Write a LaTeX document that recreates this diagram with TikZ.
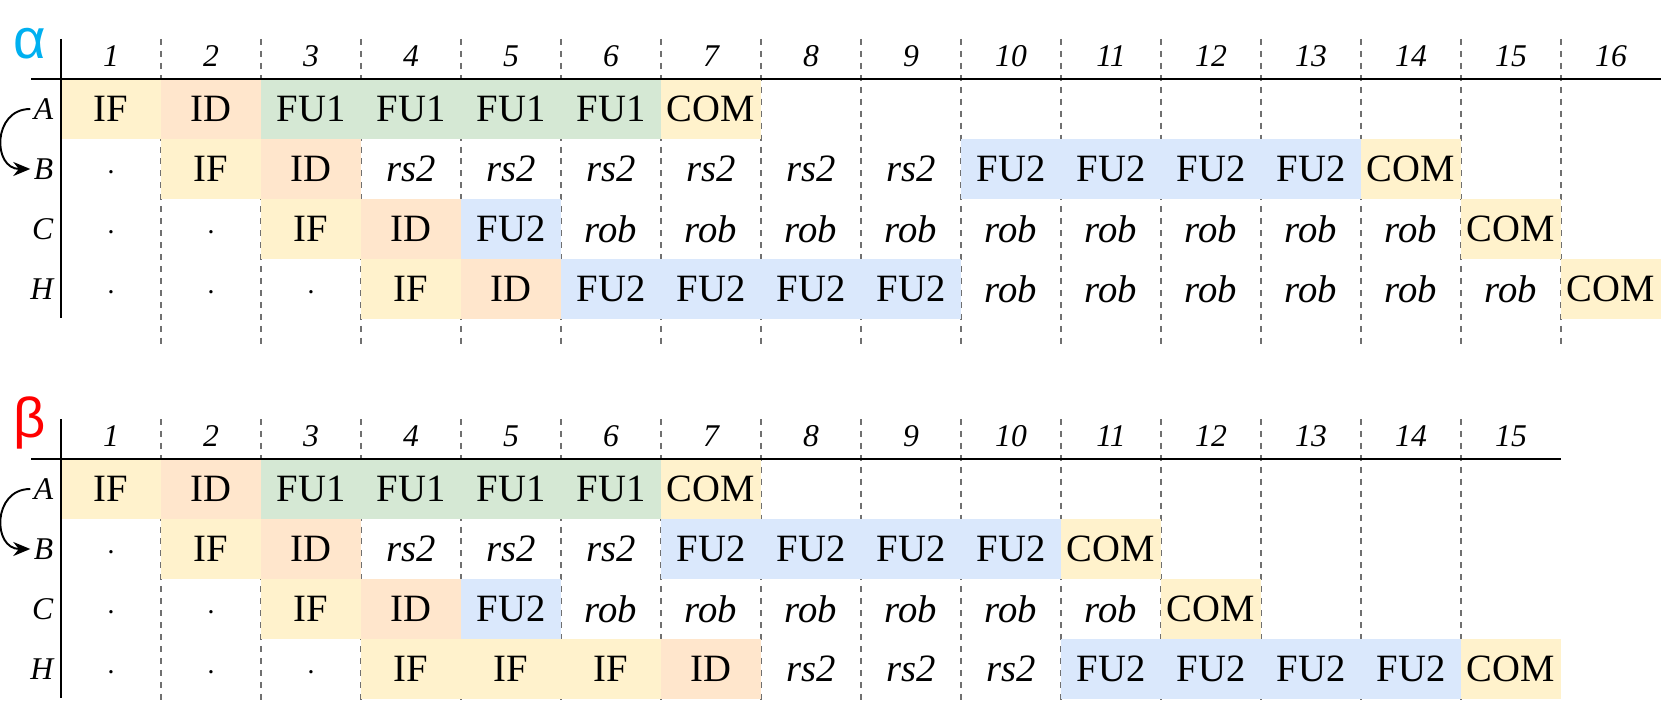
\documentclass[tikz,border=0pt]{standalone}
\usepackage{fontspec}
\setmainfont{Liberation Serif}
\newfontfamily\greekfont{Liberation Sans}
\usetikzlibrary{arrows.meta}

\definecolor{ifcol}{HTML}{FFF2CC}
\definecolor{idcol}{HTML}{FFE6CC}
\definecolor{fuonecol}{HTML}{D5E8D4}
\definecolor{futwocol}{HTML}{DAE8FC}
\definecolor{sepcol}{HTML}{707070}
\definecolor{alphacol}{HTML}{00B0F0}

\tikzset{
  stage/.style={minimum width=1cm, minimum height=0.6cm, inner sep=0pt,
    font=\fontsize{11}{13}\selectfont},
  st-IF/.style={stage, fill=ifcol, node contents={IF}},
  st-ID/.style={stage, fill=idcol, node contents={ID}},
  st-FU1/.style={stage, fill=fuonecol, node contents={FU1}},
  st-FU2/.style={stage, fill=futwocol, node contents={FU2}},
  st-COM/.style={stage, fill=ifcol, node contents={COM}},
  st-rs2/.style={stage, node contents={\itshape rs2}},
  st-rob/.style={stage, node contents={\itshape rob}},
  st-dot/.style={stage, node contents={\vphantom{I}{\fontsize{8}{9}\selectfont·}}},
  cyc/.style={font=\fontsize{9}{11}\selectfont\itshape, inner sep=0pt},
  instr/.style={font=\fontsize{9}{11}\selectfont\itshape, anchor=east, inner sep=0pt, inner xsep=0.03cm},
  cycsep/.style={sepcol, line width=0.6pt, dash pattern=on 1.7pt off 1.7pt},
  axis/.style={black, line width=0.6pt},
  dep/.style={line width=0.55pt, -{Stealth[length=0.17cm, width=0.14cm]}}
}

\begin{document}
\begin{tikzpicture}
  \useasboundingbox (0,0) rectangle (16.66,-7.02);

  % alpha schedule
  \node[text=alphacol, font=\greekfont\fontsize{16}{18}\selectfont, inner sep=0pt] (ta) at (0.30,-0.44) {α};
  \foreach \k in {1,...,15}
    \draw[cycsep] (0.61+\k,-0.39) -- (0.61+\k,-3.45);
  \foreach \k in {1,...,16}
    \node[cyc] (tc\k) at (0.11+\k,-0.56) {\k};
  \foreach \s [count=\k] in {IF,ID,FU1,FU1,FU1,FU1,COM}
    \node (tA\k) at (0.11+\k,-1.09) [st-\s];
  \foreach \s [count=\k] in {dot,IF,ID,rs2,rs2,rs2,rs2,rs2,rs2,FU2,FU2,FU2,FU2,COM}
    \node (tB\k) at (0.11+\k,-1.69) [st-\s];
  \foreach \s [count=\k] in {dot,dot,IF,ID,FU2,rob,rob,rob,rob,rob,rob,rob,rob,rob,COM}
    \node (tC\k) at (0.11+\k,-2.29) [st-\s];
  \foreach \s [count=\k] in {dot,dot,dot,IF,ID,FU2,FU2,FU2,FU2,rob,rob,rob,rob,rob,rob,COM}
    \node (tH\k) at (0.11+\k,-2.89) [st-\s];
  \draw[axis] (0.61,-0.39) -- (0.61,-3.18);
  \draw[axis] (0.31,-0.79) -- (16.61,-0.79);
  \node[instr] (tlA) at (0.57,-1.09) {A};
  \node[instr] (tlB) at (0.57,-1.69) {B};
  \node[instr] (tlC) at (0.57,-2.29) {C};
  \node[instr] (tlH) at (0.57,-2.89) {H};
  \draw[dep] (tlA.west) .. controls +(-0.38,0) and +(-0.38,0) .. (tlB.west);

  % beta schedule
  \begin{scope}[yshift=-3.8cm]
    \node[text=red, font=\greekfont\fontsize{16}{18}\selectfont, inner sep=0pt] (bb) at (0.30,-0.43) {β};
    \foreach \k in {1,...,14}
      \draw[cycsep] (0.61+\k,-0.39) -- (0.61+\k,-3.22);
    \foreach \k in {1,...,15}
      \node[cyc] (bc\k) at (0.11+\k,-0.56) {\k};
    \foreach \s [count=\k] in {IF,ID,FU1,FU1,FU1,FU1,COM}
      \node (bA\k) at (0.11+\k,-1.09) [st-\s];
    \foreach \s [count=\k] in {dot,IF,ID,rs2,rs2,rs2,FU2,FU2,FU2,FU2,COM}
      \node (bB\k) at (0.11+\k,-1.69) [st-\s];
    \foreach \s [count=\k] in {dot,dot,IF,ID,FU2,rob,rob,rob,rob,rob,rob,COM}
      \node (bC\k) at (0.11+\k,-2.29) [st-\s];
    \foreach \s [count=\k] in {dot,dot,dot,IF,IF,IF,ID,rs2,rs2,rs2,FU2,FU2,FU2,FU2,COM}
      \node (bH\k) at (0.11+\k,-2.89) [st-\s];
    \draw[axis] (0.61,-0.39) -- (0.61,-3.18);
    \draw[axis] (0.31,-0.79) -- (15.61,-0.79);
    \node[instr] (blA) at (0.57,-1.09) {A};
    \node[instr] (blB) at (0.57,-1.69) {B};
    \node[instr] (blC) at (0.57,-2.29) {C};
    \node[instr] (blH) at (0.57,-2.89) {H};
    \draw[dep] (blA.west) .. controls +(-0.38,0) and +(-0.38,0) .. (blB.west);
  \end{scope}
\end{tikzpicture}
\end{document}
